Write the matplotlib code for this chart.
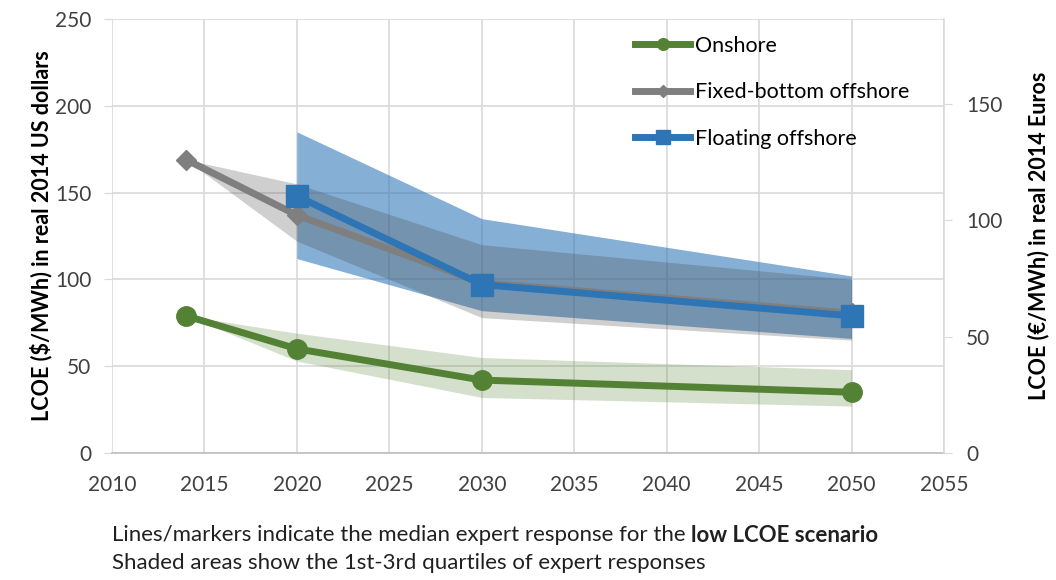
import matplotlib
matplotlib.use('Agg')
import matplotlib.pyplot as plt

plt.rcParams['font.family'] = ['Lato', 'DejaVu Sans']

# ---- data ----
years_on = [2014, 2020, 2030, 2050]
onshore = [79, 60, 42, 35]
onshore_q1 = [79, 53, 32, 27]
onshore_q3 = [79, 69, 55, 48]

years_fixed = [2014, 2020, 2030, 2050]
fixed = [169, 137, 98, 80.5]
fixed_q1 = [169, 122, 78, 65]
fixed_q3 = [169, 155, 120, 100]

years_float = [2020, 2030, 2050]
floating = [148, 97, 79]
floating_q1 = [112, 82, 66]
floating_q3 = [185, 135, 102]

usd_per_eur = 1.34
labels = ['Onshore', 'Fixed-bottom offshore', 'Floating offshore']
x_ticks = list(range(2010, 2056, 5))
y_ticks = [0, 50, 100, 150, 200, 250]
y2_ticks = [0, 50, 100, 150]

green = '#548235'
gray = '#7f7f7f'
blue = '#2e75b6'

fig = plt.figure(figsize=(10.56, 5.80), dpi=100)
ax = fig.add_axes([112/1056, 1-453/580, (944-112)/1056, (453-19)/580])

# shaded bands
ax.fill_between(years_float, floating_q1, floating_q3, color=blue, alpha=0.58, lw=0, zorder=1)
ax.fill_between(years_fixed, fixed_q1, fixed_q3, color=(70/255, 70/255, 70/255), alpha=0.26, lw=0, zorder=2)
ax.fill_between(years_on, onshore_q1, onshore_q3, color=green, alpha=0.25, lw=0, zorder=1)

# lines
l1, = ax.plot(years_on, onshore, color=green, lw=5, marker='o', ms=14, zorder=3, label=labels[0])
l2, = ax.plot(years_fixed, fixed, color=gray, lw=5, marker='D', ms=10, zorder=4, label=labels[1])
l3, = ax.plot(years_float, floating, color=blue, lw=5, marker='s', ms=16, zorder=5, label=labels[2])

ax.set_xlim(2010, 2055)
ax.set_ylim(0, 250)
ax.set_xticks(x_ticks)
ax.set_yticks(y_ticks)
ax.grid(True, color='#d9d9d9', lw=1.2, zorder=0)
ax.set_axisbelow(True)
for s in ['top', 'right', 'left']:
    ax.spines[s].set_visible(False)
ax.spines['bottom'].set_color('#bfbfbf')
ax.spines['bottom'].set_linewidth(1.2)
ax.tick_params(axis='x', length=0, labelsize=15, colors='#404040', pad=16)
ax.tick_params(axis='y', length=6, color='#d9d9d9', labelsize=15, labelcolor='#404040', pad=9)
ax.set_ylabel('LCOE ($/MWh) in real 2014 US dollars', fontsize=15.5, fontweight='bold', color='black', labelpad=2)

ax2 = ax.twinx()
ax2.set_ylim(0, 250/usd_per_eur)
ax2.set_yticks(y2_ticks)
for s in ['top', 'left', 'bottom']:
    ax2.spines[s].set_visible(False)
ax2.spines['right'].set_color('#d9d9d9')
ax2.spines['right'].set_linewidth(1.2)
ax2.tick_params(axis='y', length=6, color='#d9d9d9', labelsize=15, labelcolor='#404040', pad=10)
ax2.set_ylabel('LCOE (€/MWh) in real 2014 Euros', fontsize=15.5, fontweight='bold', color='black', labelpad=18)

leg = ax.legend(handles=[l1, l2, l3], loc='upper left', bbox_to_anchor=((635-112)/(944-112), 1-(36-19)/434),
                frameon=False, fontsize=15.5, handlelength=2.56, handletextpad=0.23, labelspacing=1.23,
                markerscale=0.6, borderpad=0, borderaxespad=0)
for t in leg.get_texts():
    t.set_color('black')

# bottom note
fig.canvas.draw()
r = fig.canvas.get_renderer()
t1 = fig.text(112/1056, 1-535/580, 'Lines/markers indicate the median expert response for the ', fontsize=16,
              va='center', ha='left', color='#202020')
bb = t1.get_window_extent(renderer=r)
fig.text(bb.x1/fig.bbox.width, 1-535/580, 'low LCOE scenario', fontsize=16, fontweight='bold',
         va='center', ha='left', color='#202020')
fig.text(112/1056, 1-563/580, 'Shaded areas show the 1st-3rd quartiles of expert responses', fontsize=16,
         va='center', ha='left', color='#202020')

fig.savefig('out.png', dpi=100)
